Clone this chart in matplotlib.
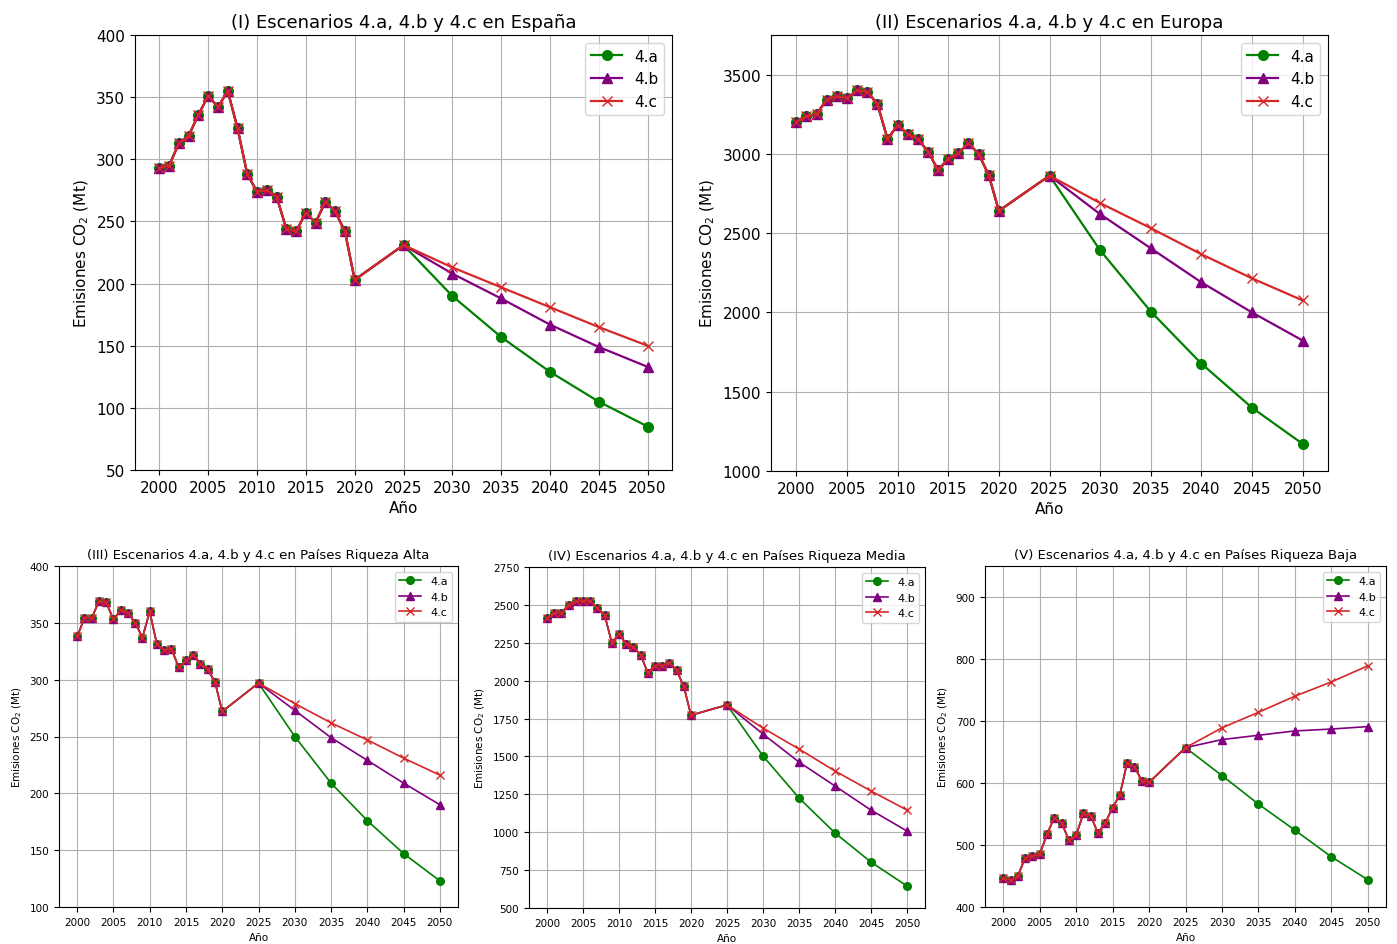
import matplotlib
matplotlib.use("Agg")
import matplotlib.pyplot as plt

# ---------------- data ----------------
years_hist = list(range(2000, 2021)) + [2025]
years_fut = [2025, 2030, 2035, 2040, 2045, 2050]

# (I) España
es_hist = [293, 295, 313, 319, 336, 351, 342, 355, 325, 288, 274, 275, 270, 244, 242,
           257, 249, 266, 258, 242, 203, 231]
es_a = [231, 190, 157, 129, 105, 85]
es_b = [231, 208, 188, 167, 149, 133]
es_c = [231, 213, 197, 181, 165, 150]

# (II) Europa
eu_hist = [3201, 3237, 3252, 3342, 3364, 3353, 3400, 3391, 3317, 3095, 3180, 3125, 3095,
           3015, 2899, 2968, 3004, 3068, 3000, 2867, 2641, 2863]
eu_a = [2863, 2392, 2006, 1677, 1399, 1171]
eu_b = [2863, 2620, 2405, 2190, 2000, 1823]
eu_c = [2863, 2690, 2532, 2367, 2215, 2076]

# (III) Riqueza Alta
al_hist = [338, 354, 354, 369, 368, 353, 361, 359, 350, 337, 360, 331, 326, 327, 311,
           317, 322, 314, 309, 298, 272, 297]
al_a = [297, 250, 209, 176, 147, 123]
al_b = [297, 273, 249, 229, 209, 190]
al_c = [297, 279, 262, 247, 231, 216]

# (IV) Riqueza Media
me_hist = [2412, 2447, 2447, 2502, 2524, 2524, 2524, 2478, 2434, 2250, 2309, 2243, 2221,
           2171, 2052, 2100, 2100, 2118, 2068, 1962, 1772, 1840]
me_a = [1840, 1503, 1226, 995, 803, 645]
me_b = [1840, 1648, 1463, 1305, 1146, 1008]
me_c = [1840, 1687, 1549, 1404, 1272, 1146]

# (V) Riqueza Baja
ba_hist = [447, 443, 450, 479, 482, 485, 517, 544, 536, 508, 516, 551, 547, 519, 536,
           560, 581, 633, 626, 604, 601, 657]
ba_a = [657, 612, 566, 524, 481, 444]
ba_b = [657, 670, 677, 684, 687, 691]
ba_c = [657, 689, 714, 740, 763, 789]

titles = [
    "(I) Escenarios 4.a, 4.b y 4.c en España",
    "(II) Escenarios 4.a, 4.b y 4.c en Europa",
    "(III) Escenarios 4.a, 4.b y 4.c en Países Riqueza Alta",
    "(IV) Escenarios 4.a, 4.b y 4.c en Países Riqueza Media",
    "(V) Escenarios 4.a, 4.b y 4.c en Países Riqueza Baja",
]
xticks = list(range(2000, 2051, 5))
labels = ["4.a", "4.b", "4.c"]

# ---------------- figure ----------------
W, H = 1397, 945
fig = plt.figure(figsize=(W / 100, H / 100), dpi=100)

def box(l, t, r, b):
    return [l / W, 1 - b / H, (r - l) / W, (b - t) / H]

specs = [
    (box(135, 36, 672, 471), es_hist, es_a, es_b, es_c, (50, 400), list(range(50, 401, 50)), True),
    (box(771, 36, 1328, 472), eu_hist, eu_a, eu_b, eu_c, (1000, 3750), list(range(1000, 3501, 500)), True),
    (box(59, 567, 458, 908), al_hist, al_a, al_b, al_c, (100, 400), list(range(100, 401, 50)), False),
    (box(529, 568, 925, 909), me_hist, me_a, me_b, me_c, (500, 2750), list(range(500, 2751, 250)), False),
    (box(985, 567, 1386, 908), ba_hist, ba_a, ba_b, ba_c, (400, 950), list(range(400, 901, 100)), False),
]

colors = ["green", "purple", "#d62728"]
markers = ["o", "^", "x"]

for i, (rect, hist, a, b, c, ylim, yt, big) in enumerate(specs):
    ax = fig.add_axes(rect)
    lw = 1.6 if big else 1.2
    ms = 7 if big else 5.5
    fs_tick = 11 if big else 7.5
    fs_title = 13 if big else 9.5
    fs_lab = 11 if big else 7.5
    fs_leg = 11 if big else 8
    for k, (fut, col, mk, lab) in enumerate(zip([a, b, c], colors, markers, labels)):
        ax.plot(years_hist + years_fut[1:], hist + fut[1:], color=col, marker=mk,
                linewidth=lw, markersize=ms, label=lab)
    ax.set_ylim(*ylim)
    ax.set_yticks(yt)
    ax.set_xticks(xticks)
    ax.tick_params(labelsize=fs_tick)
    ax.grid(True)
    ax.set_title(titles[i], fontsize=fs_title)
    ax.set_xlabel("Año", fontsize=fs_lab)
    ax.set_ylabel("Emisiones CO$_2$ (Mt)", fontsize=fs_lab)
    ax.legend(loc="upper right", fontsize=fs_leg)

fig.savefig("out.png", dpi=100)
